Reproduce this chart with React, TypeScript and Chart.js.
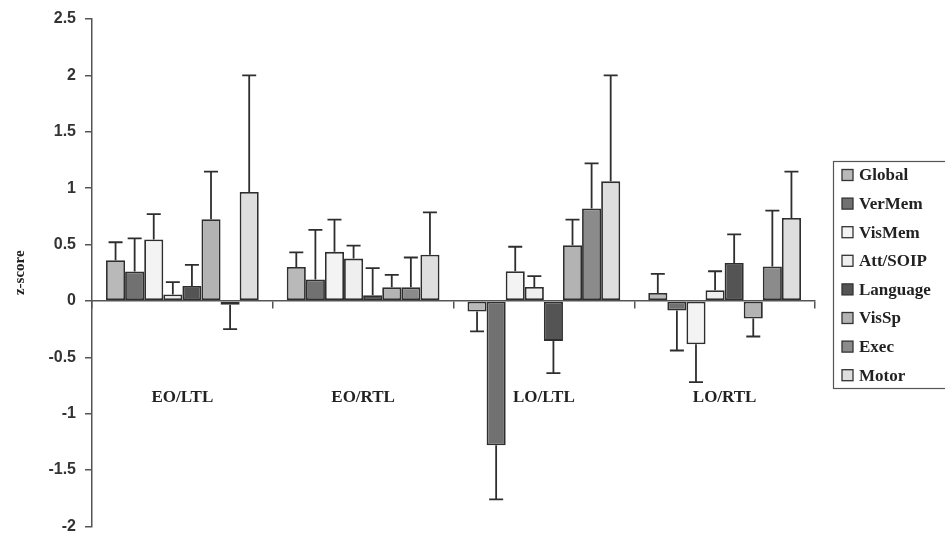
import React, { useEffect, useRef } from "react";
import { Chart, registerables } from "chart.js";

Chart.register(...registerables);

const categories = ["EO/LTL", "EO/RTL", "LO/LTL", "LO/RTL"];
const seriesNames = ["Global", "VerMem", "VisMem", "Att/SOIP", "Language", "VisSp", "Exec", "Motor"];
const seriesColors = ["#b9b9b9", "#717171", "#f3f3f3", "#efefef", "#545454", "#b3b3b3", "#8b8b8b", "#dedede"];

const globalVals = [0.36, 0.30, -0.095, 0.07];
const verMemVals = [0.26, 0.19, -1.28, -0.085];
const visMemVals = [0.545, 0.435, 0.263, -0.384];
const attVals = [0.057, 0.375, 0.124, 0.095];
const languageVals = [0.133, 0.05, -0.355, 0.337];
const visSpVals = [0.724, 0.12, 0.494, -0.156];
const execVals = [-0.035, 0.12, 0.82, 0.305];
const motorVals = [0.966, 0.41, 1.06, 0.736];

// error bar end points (one-sided, away from zero)
const globalErr = [0.52, 0.43, -0.27, 0.24];
const verMemErr = [0.555, 0.63, -1.76, -0.44];
const visMemErr = [0.77, 0.72, 0.48, -0.72];
const attErr = [0.166, 0.49, 0.22, 0.263];
const languageErr = [0.32, 0.29, -0.64, 0.59];
const visSpErr = [1.147, 0.23, 0.72, -0.316];
const execErr = [-0.25, 0.385, 1.22, 0.80];
const motorErr = [2.0, 0.785, 2.0, 1.147];

const allVals = [globalVals, verMemVals, visMemVals, attVals, languageVals, visSpVals, execVals, motorVals];
const allErrs = [globalErr, verMemErr, visMemErr, attErr, languageErr, visSpErr, execErr, motorErr];

const errorBarPlugin = {
  id: "errorBars",
  afterDatasetsDraw(chart: any) {
    const ctx = chart.ctx;
    const yScale = chart.scales.y;
    ctx.save();
    ctx.strokeStyle = "#2e2e2e";
    ctx.lineWidth = 1.8;
    chart.data.datasets.forEach((ds: any, di: number) => {
      const meta = chart.getDatasetMeta(di);
      meta.data.forEach((bar: any, i: number) => {
        const errEnd = ds.errEnds[i];
        const x = bar.x;
        const y0 = yScale.getPixelForValue(ds.data[i]);
        const y1 = yScale.getPixelForValue(errEnd);
        ctx.beginPath();
        ctx.moveTo(x, y0);
        ctx.lineTo(x, y1);
        ctx.moveTo(x - 7, y1);
        ctx.lineTo(x + 7, y1);
        ctx.stroke();
      });
    });
    ctx.restore();
  },
};

const legendPlugin = {
  id: "boxLegend",
  afterDraw(chart: any) {
    const ctx = chart.ctx;
    ctx.save();
    const left = 833.5;
    const top = 161.5;
    const bottom = 388.5;
    ctx.strokeStyle = "#555";
    ctx.lineWidth = 1.2;
    ctx.strokeRect(left, top, 130, bottom - top);
    ctx.font = "bold 17px 'Liberation Serif'";
    ctx.textBaseline = "middle";
    ctx.textAlign = "left";
    chart.data.datasets.forEach((ds: any, i: number) => {
      const cy = 175 + i * 28.6;
      ctx.fillStyle = ds.backgroundColor;
      ctx.fillRect(842, cy - 5.5, 11, 11);
      ctx.strokeStyle = "#333";
      ctx.lineWidth = 1.3;
      ctx.strokeRect(842, cy - 5.5, 11, 11);
      ctx.fillStyle = "#222";
      ctx.fillText(ds.label, 859, cy + 1);
    });
    ctx.restore();
  },
};

export default function App() {
  const ref = useRef<HTMLCanvasElement>(null);
  useEffect(() => {
    if (!ref.current) return;
    const chart = new Chart(ref.current, {
      type: "bar",
      data: {
        labels: categories,
        datasets: seriesNames.map((name, i) => ({
          label: name,
          data: allVals[i],
          errEnds: allErrs[i],
          backgroundColor: seriesColors[i],
          borderColor: "#2e2e2e",
          borderWidth: 1.8,
          borderSkipped: false,
          barPercentage: 1,
          categoryPercentage: 0.845,
        })) as any,
      },
      options: {
        animation: false,
        responsive: true,
        maintainAspectRatio: false,
        layout: { padding: { top: 19, bottom: 0, left: 0, right: 130 } },
        plugins: { legend: { display: false }, tooltip: { enabled: false } },
        scales: {
          x: {
            position: { y: 0 } as any,
            grid: { drawOnChartArea: false, offset: true, tickLength: 7, color: "#555", lineWidth: 1.5 },
            border: { color: "#555", width: 1.5 },
            ticks: {
              padding: 80,
              color: "#222",
              font: { family: "'Liberation Serif'", weight: "bold", size: 17 },
            },
          },
          y: {
            min: -2,
            max: 2.5,
            afterFit(scale: any) {
              scale.width = 92;
            },
            ticks: {
              stepSize: 0.5,
              padding: 9,
              color: "#333",
              font: { family: "'Liberation Sans'", weight: "bold", size: 16 },
              callback: (v: any) => String(Math.round(Number(v) * 10) / 10),
            },
            grid: { drawOnChartArea: false, tickLength: 7, color: "#555", lineWidth: 1.5 },
            border: { color: "#555", width: 1.5 },
            title: {
              display: true,
              text: "z-score",
              color: "#222",
              padding: { top: 11, bottom: 0 },
              font: { family: "'Liberation Serif'", weight: "bold", size: 15 },
            },
          },
        },
      },
      plugins: [errorBarPlugin, legendPlugin],
    });
    return () => chart.destroy();
  }, []);
  return (
    <div style={{ position: "fixed", left: 0, top: 0, width: 945, height: 545, background: "#fff" }}>
      <canvas ref={ref} />
    </div>
  );
}
